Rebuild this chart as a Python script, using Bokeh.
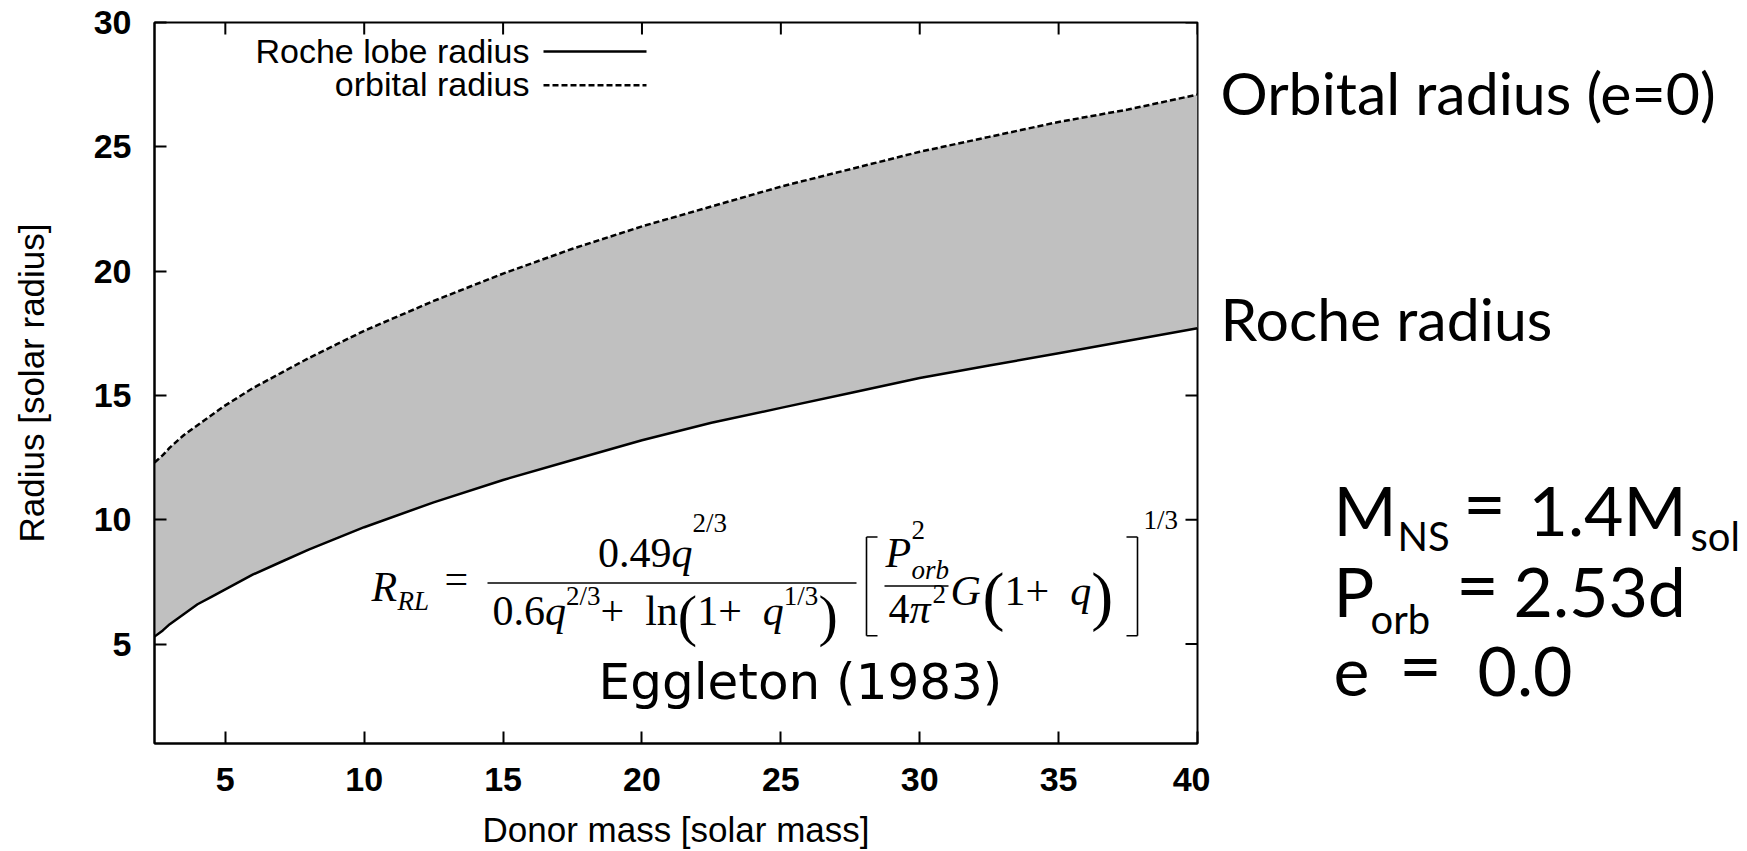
from bokeh.plotting import figure
from bokeh.layouts import row
from bokeh.models import Range1d, FixedTicker, Label, ColumnDataSource
from bokeh.embed import file_html
from bokeh.resources import INLINE

# ---------------- data ----------------
donor_mass = [2.45, 2.75, 3, 3.5, 4, 4.5, 5, 6, 7, 8, 9, 10, 12.5, 15, 17.5, 20, 22.5, 25, 27.5, 30, 32.5, 35, 37.5, 40]
roche_radius = [5.3, 5.55, 5.8, 6.2, 6.6, 6.9, 7.2, 7.8, 8.3, 8.8, 9.25, 9.7, 10.7, 11.6, 12.4, 13.2, 13.9, 14.5, 15.1,
                15.7, 16.2, 16.7, 17.2, 17.7]
orbital_radius = [12.3, 12.6, 12.9, 13.4, 13.8, 14.2, 14.6, 15.3, 15.9, 16.5, 17.05, 17.6, 18.8, 19.9, 20.9, 21.8, 22.6,
                  23.4, 24.1, 24.8, 25.4, 26.0, 26.5, 27.1]
x_ticks = [5, 10, 15, 20, 25, 30, 35, 40]
y_ticks = [5, 10, 15, 20, 25, 30]
legend_labels = ["Roche lobe radius", "orbital radius"]

X_MIN, X_MAX = 2.45, 40
Y_MIN, Y_MAX = 1, 30
W, H = 1747, 851
FL, FR, FT, FB = 154, 1197, 22, 745
W1 = 1210          # width of the chart part; the rest holds the slide texts


def px2x(px):
    return X_MIN + (px - FL) / (FR - FL) * (X_MAX - X_MIN)


def px2y(py):
    return Y_MAX - (py - FT) / (FB - FT) * (Y_MAX - Y_MIN)


p = figure(width=W1, height=H, x_range=Range1d(X_MIN, X_MAX), y_range=Range1d(Y_MIN, Y_MAX),
           output_backend="svg", toolbar_location=None,
           min_border_left=FL, min_border_right=W1 - FR, min_border_top=FT, min_border_bottom=H - FB,
           x_axis_label="Donor mass [solar mass]", y_axis_label="Radius [solar radius]")
p.xgrid.visible = False
p.ygrid.visible = False
p.background_fill_color = "white"
p.border_fill_color = "white"
p.outline_line_color = "black"
p.outline_line_width = 2


def style_axis(ax, ticks):
    ax.ticker = FixedTicker(ticks=ticks)
    ax.major_tick_in = 12
    ax.major_tick_out = 0
    ax.minor_tick_in = 0
    ax.minor_tick_out = 0
    ax.major_tick_line_width = 2
    ax.major_tick_line_color = "black"
    ax.axis_line_width = 2
    ax.axis_line_color = "black"
    ax.major_label_text_font = "Liberation Sans"
    ax.major_label_text_font_style = "bold"
    ax.major_label_text_color = "black"
    ax.major_label_text_font_size = "34px"
    ax.axis_label_text_font = "Liberation Sans"
    ax.axis_label_text_font_style = "normal"
    ax.axis_label_text_color = "black"
    ax.axis_label_text_font_size = "35px"


for ax in p.below:
    style_axis(ax, x_ticks)
    ax.major_label_standoff = 24
    ax.axis_label_standoff = 16
for ax in p.left:
    style_axis(ax, y_ticks)
    ax.major_label_standoff = 23
    ax.axis_label_standoff = 40

# mirrored inward ticks on the top and right frame edges
tdx = 12 * (X_MAX - X_MIN) / (FR - FL)
tdy = 12 * (Y_MAX - Y_MIN) / (FB - FT)
p.segment(x0=x_ticks, y0=[Y_MAX] * len(x_ticks), x1=x_ticks, y1=[Y_MAX - tdy] * len(x_ticks),
          line_color="black", line_width=2)
p.segment(x0=[X_MAX] * len(y_ticks), y0=y_ticks, x1=[X_MAX - tdx] * len(y_ticks), y1=y_ticks,
          line_color="black", line_width=2)

src = ColumnDataSource(dict(m=donor_mass, roche=roche_radius, orbit=orbital_radius))
p.varea(x="m", y1="roche", y2="orbit", source=src, fill_color="#c0c0c0")
p.line(x="m", y="roche", source=src, line_color="black", line_width=2.5)
p.line(x="m", y="orbit", source=src, line_color="black", line_width=2.5, line_dash="6 3")

MID = 0.33   # distance of the em-box middle above the baseline, in em


def put(text, px, base, size, font="Liberation Serif", style="normal", align="left"):
    p.add_layout(Label(x=px2x(px), y=px2y(base - MID * size), text=text, text_font=font,
                       text_font_size=f"{size}px", text_font_style=style, text_align=align,
                       text_baseline="middle", text_color="black"))


segs = []


def seg(x0, y0, x1, y1):
    segs.append((px2x(x0), px2y(y0), px2x(x1), px2y(y1)))


# ---------------- legend ----------------
put(legend_labels[0], 529, 62, 34, font="Liberation Sans", align="right")
put(legend_labels[1], 529, 95, 34, font="Liberation Sans", align="right")
p.segment(x0=[px2x(543)], y0=[px2y(51)], x1=[px2x(646)], y1=[px2y(51)], line_color="black", line_width=2.5)
p.segment(x0=[px2x(543)], y0=[px2y(85)], x1=[px2x(646)], y1=[px2y(85)], line_color="black", line_width=2.5,
          line_dash="6 3")

# ---------------- formula ----------------
TW = {'0': .5, '1': .5, '2': .5, '3': .5, '4': .5, '6': .5, '9': .5, '.': .25, '+': .564, '=': .564,
      '(': .333, ')': .333, '/': .278, 'l': .278, 'n': .5, 'π': .55, 'G': .722, 'R': .611, 'L': .556,
      'q': .5, 'P': .611, 'o': .5, 'r': .389, 'b': .5, ' ': .25}


def tw(s, size):
    return sum(TW.get(c, .5) for c in s) * size


def run(tokens, x0, base):
    x = x0
    for text, size, style, dy in tokens:
        put(text, x, base + dy, size, style=style)
        x += tw(text, size)
    return x


def twidth(tokens):
    return sum(tw(t, s) for t, s, _, _ in tokens)


F, f, BP = 42, 27, 58
put("R", 371, 602, F, style="italic")
put("RL", 397, 611, f, style="italic")
put("=", 444, 594, F)
seg(487, 584, 856, 584)
num = [("0.49", F, "normal", 0), ("q", F, "italic", 0), ("2/3", f, "normal", -35)]
run(num, 662 - twidth(num) / 2, 568)
den = [("0.6", F, "normal", 0), ("q", F, "italic", 0), ("2/3", f, "normal", -20), (" + ", F, "normal", 0),
       ("ln", F, "normal", 0), ("(", BP, "normal", 10), ("1", F, "normal", 0), (" + ", F, "normal", 0),
       ("q", F, "italic", 0), ("1/3", f, "normal", -20), (")", BP, "normal", 10)]
run(den, 492, 626)
# bracket [
seg(866, 538, 866, 637)
seg(866, 538, 877, 538)
seg(866, 637, 877, 637)
# inner fraction
put("P", 885, 568, F, style="italic")
put("2", 911, 540, f)
put("orb", 911, 580, f, style="italic")
seg(884, 587, 948, 587)
run([("4", F, "normal", 0), ("π", F, "italic", 0), ("2", f, "normal", -20)], 888, 624)
put("G", 950, 606, F, style="italic")
run([("(", 66, "normal", 12), ("1", F, "normal", 0), (" + ", F, "normal", 0), ("q", F, "italic", 0),
     (")", 66, "normal", 12)], 982, 606)
# bracket ]
seg(1137, 538, 1137, 637)
seg(1126, 538, 1137, 538)
seg(1126, 637, 1137, 637)
put("1/3", 1143, 530, f)

p.segment(x0=[s[0] for s in segs], y0=[s[1] for s in segs], x1=[s[2] for s in segs], y1=[s[3] for s in segs],
          line_color="black", line_width=1.6)

put("Eggleton (1983)", 800, 700, 50, font="DejaVu Sans", align="center")

# ---------------- right-hand slide texts (pixel coordinates) ----------------
# In a row, Bokeh aligns this panel's frame with the chart's frame, so its y range spans FT..FB pixels.
q = figure(width=W - W1, height=H, x_range=Range1d(W1, W), y_range=Range1d(FB, FT),
           output_backend="svg", toolbar_location=None,
           min_border_left=0, min_border_right=0, min_border_top=FT, min_border_bottom=H - FB)
q.axis.visible = False
q.grid.visible = False
q.outline_line_color = None
q.background_fill_color = "white"
q.border_fill_color = "white"

SHIFT = -7


def put2(text, px, base, size, align="left"):
    q.add_layout(Label(x=px, y=base + SHIFT - MID * size, text=text, text_font="Lato",
                       text_font_size=f"{size}px", text_align=align, text_baseline="middle",
                       text_color="black"))


put2("Orbital radius (e=0)", 1220, 119, 59)
put2("Roche radius", 1220, 345, 59)

BIG, SUB, EQ = 68, 40, 74
put2("M", 1333, 540, BIG)
put2("NS", 1397, 557, SUB)
put2("=", 1484, 534, EQ, align="center")
put2("1.4M", 1528, 540, BIG)
put2("sol", 1690, 557, SUB)

put2("P", 1333, 621, BIG)
put2("orb", 1370, 640, SUB)
put2("=", 1477, 615, EQ, align="center")
put2("2.53d", 1513, 621, BIG)

put2("e", 1333, 702, BIG)
put2("=", 1420, 696, EQ, align="center")
put2("0.0", 1477, 702, BIG)

layout = row(p, q)
open("out.html", "w").write(file_html(layout, INLINE))
